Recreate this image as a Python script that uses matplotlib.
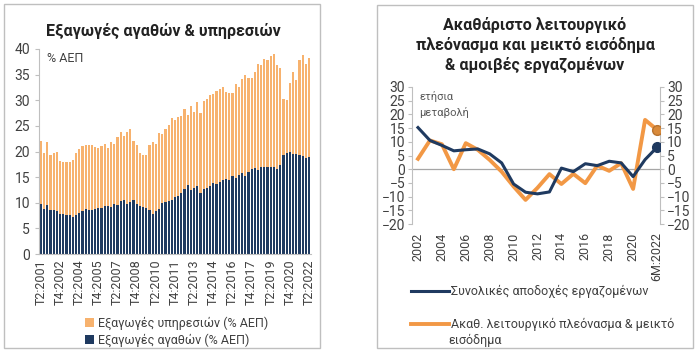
"""
Two-panel chart: exports of goods & services (% GDP, quarterly stacked bars)
and annual change of compensation of employees vs gross operating surplus.
"""

import numpy as np
import matplotlib
matplotlib.use("Agg")
import matplotlib.pyplot as plt
from matplotlib.patches import Rectangle
from matplotlib.lines import Line2D

plt.rcParams["font.family"] = ["Roboto", "DejaVu Sans"]

NAVY = "#1F3A60"
ORANGE_BAR = "#F7B26E"
ORANGE_LINE = "#F29845"
GREY = "#A6A6A6"
TXT = "#404040"

# ── Left panel data: quarters T2:2001 .. T2:2022 ─────────────────────────────
goods = [
    9.8, 8.8, 9.5, 8.5, 8.5, 8.4, 7.9, 7.8, 7.7, 7.6,
    7.3, 7.7, 8.0, 8.3, 8.7, 8.6, 8.5, 8.8, 8.9, 8.9,
    9.4, 9.4, 9.2, 9.8, 9.6, 10.3, 10.6, 9.8, 10.1, 10.5,
    9.7, 9.4, 9.1, 9.0, 8.5, 7.9, 8.3, 8.8, 9.9, 10.1,
    10.4, 10.6, 11.2, 11.4, 11.9, 12.6, 13.5, 12.4, 12.9, 13.2,
    11.9, 12.6, 12.9, 13.3, 13.8, 13.7, 14.0, 14.5, 14.7, 14.4,
    15.2, 14.9, 15.5, 15.9, 15.2, 16.0, 16.6, 16.8, 16.4, 16.9,
    17.0, 16.9, 16.9, 16.9, 16.5, 17.3, 19.3, 19.8, 19.9, 19.5,
    19.6, 19.4, 19.1, 18.8, 19.0,
]
total = [
    22.0, 19.8, 21.8, 19.4, 19.7, 20.0, 18.1, 18.0, 18.0, 18.0,
    18.3, 19.8, 20.4, 21.1, 21.3, 21.3, 21.2, 20.9, 20.7, 21.0,
    21.5, 20.6, 21.8, 21.4, 22.9, 23.9, 23.1, 23.8, 24.4, 22.0,
    21.3, 19.8, 19.3, 19.3, 21.2, 21.9, 21.4, 23.6, 23.5, 24.4,
    25.2, 26.5, 26.1, 26.8, 27.0, 28.2, 27.2, 28.8, 27.8, 29.7,
    27.5, 29.9, 30.2, 31.0, 31.2, 31.8, 32.2, 32.5, 31.6, 31.4,
    31.5, 33.1, 32.6, 34.2, 35.0, 34.3, 34.3, 35.5, 37.1, 36.9,
    38.0, 37.9, 38.6, 39.0, 36.9, 36.3, 30.2, 30.0, 33.4, 35.6,
    33.9, 37.8, 38.9, 37.0, 38.2,
]
services = [t - g for t, g in zip(total, goods)]
quarter_labels = [
    "T2:2001", "T4:2002", "T2:2004", "T4:2005", "T2:2007", "T4:2008",
    "T2:2010", "T4:2011", "T2:2013", "T4:2014", "T2:2016", "T4:2017",
    "T2:2019", "T4:2020", "T2:2022",
]

# ── Right panel data: annual change, 2002 .. 2021 and 6M:2022 ────────────────
year_labels = ["2002", "2004", "2006", "2008", "2010", "2012", "2014",
               "2016", "2018", "2020", "6M:2022"]
compensation = [15.2, 10.5, 8.7, 6.7, 7.1, 7.4, 5.6, 2.3, -5.4, -8.4,
                -9.0, -8.3, 0.4, -0.9, 2.0, 1.3, 2.9, 2.3, -2.7, 3.5, 8.0]
surplus = [3.8, 10.5, 9.1, 0.0, 9.5, 7.1, 3.4, -0.9, -6.3, -11.2,
           -6.8, -1.8, -5.4, -1.7, -5.1, 1.3, -0.6, 2.2, -7.2, 18.0, 14.4]

W, H = 700, 354
fig = plt.figure(figsize=(W / 100, H / 100), dpi=100)


def px_axes(x0, y0, x1, y1):
    """Axes from pixel box (top-left origin)."""
    return fig.add_axes([x0 / W, 1 - y1 / H, (x1 - x0) / W, (y1 - y0) / H])


# panel frames
for x0, y0, x1, y1 in [(4, 4, 320, 348), (377, 5, 693, 348)]:
    fig.patches.append(Rectangle((x0 / W, 1 - y1 / H), (x1 - x0) / W, (y1 - y0) / H,
                                 transform=fig.transFigure, fill=False,
                                 edgecolor="#BFBFBF", lw=1.0))

# ── Left: stacked bars ───────────────────────────────────────────────────────
ax = px_axes(39, 49, 311, 254)
x = np.arange(len(goods))
ax.bar(x, goods, width=0.68, color=NAVY, label="Εξαγωγές αγαθών (% ΑΕΠ)")
ax.bar(x, services, bottom=goods, width=0.68, color=ORANGE_BAR,
       label="Εξαγωγές υπηρεσιών (% ΑΕΠ)")
ax.set_xlim(-0.6, len(goods) - 0.4)
ax.set_ylim(0, 40)
ax.set_yticks(range(0, 41, 5))
ax.set_xticks(x[::6])
ax.set_xticklabels(quarter_labels, rotation=90)
for s in ["top", "right"]:
    ax.spines[s].set_visible(False)
ax.spines["left"].set_color("#BFBFBF")
ax.spines["bottom"].set_color("#BFBFBF")
ax.tick_params(axis="x", length=0, labelsize=9, colors=TXT, pad=4)
ax.tick_params(axis="y", length=3, labelsize=10, colors=TXT, color="#BFBFBF")
ax.text(0.03, 0.935, "% ΑΕΠ", transform=ax.transAxes, fontsize=9, color=TXT)
fig.text(163 / W, 1 - 31 / H, "Εξαγωγές αγαθών & υπηρεσιών", ha="center",
         va="center", fontsize=11.5, fontweight="bold", color="#222222")
h, l = ax.get_legend_handles_labels()
fig.legend(h[::-1], l[::-1], loc="center left", bbox_to_anchor=(74 / W, 1 - 332 / H),
           frameon=False, fontsize=9, handlelength=0.7, handleheight=0.7,
           handletextpad=0.3, labelspacing=0.25, labelcolor=TXT)

# ── Right: lines ─────────────────────────────────────────────────────────────
ar = px_axes(412, 87, 660, 224)
t = np.arange(len(compensation))
ar.axhline(0, color=GREY, lw=0.9, zorder=1)
ar.plot(t, compensation, color=NAVY, lw=2.2, zorder=3,
        label="Συνολικές αποδοχές εργαζομένων")
ar.plot(t, surplus, color=ORANGE_LINE, lw=2.8, zorder=2,
        label="Ακαθ. λειτουργικό πλεόνασμα & μεικτό")
ar.plot(t[-1], compensation[-1], "o", color=NAVY, ms=7, zorder=4)
ar.plot(t[-1], surplus[-1], "o", color="#D98A3A", mec="#B8732F", ms=7, zorder=4)
ar.set_xlim(-0.5, len(t) - 0.75)
ar.set_ylim(-20, 30)
ar.set_yticks(range(-20, 31, 5))
ar.set_xticks(t[::2])
ar.set_xticklabels(year_labels, rotation=90)
ar.tick_params(axis="x", length=0, labelsize=9, colors=TXT, pad=6)
ar.tick_params(axis="y", which="both", length=3, labelsize=10, colors=TXT,
               color="#BFBFBF", pad=2, right=True, labelright=True)
for s in ["top", "bottom"]:
    ar.spines[s].set_visible(False)
for s in ["left", "right"]:
    ar.spines[s].set_color("#BFBFBF")
ar.text(0.03, 0.97, "ετήσια\nμεταβολή", transform=ar.transAxes, fontsize=8,
        color="#595959", va="top", linespacing=1.5)
fig.text(535 / W, 1 - 45 / H,
         "Ακαθάριστο λειτουργικό\nπλεόνασμα και μεικτό εισόδημα\n& αμοιβές εργαζομένων",
         ha="center", va="center", fontsize=11.5, fontweight="bold",
         color="#222222", linespacing=1.3)
lh = [Line2D([], [], color=NAVY, lw=2.2), Line2D([], [], color=ORANGE_LINE, lw=2.8)]
lb = [ln.get_label() for ln in ar.get_lines()[1:3]]
fig.legend(lh, lb, loc="center left", bbox_to_anchor=(400 / W, 1 - 308 / H),
           frameon=False, fontsize=9, handlelength=3.0, handletextpad=0.2,
           labelspacing=1.6, labelcolor=TXT)
# wrapped continuation of the second legend label
fig.text(448 / W, 1 - 340 / H, "εισόδημα", fontsize=9, color=TXT, va="center")

fig.savefig("out.png", dpi=100)
